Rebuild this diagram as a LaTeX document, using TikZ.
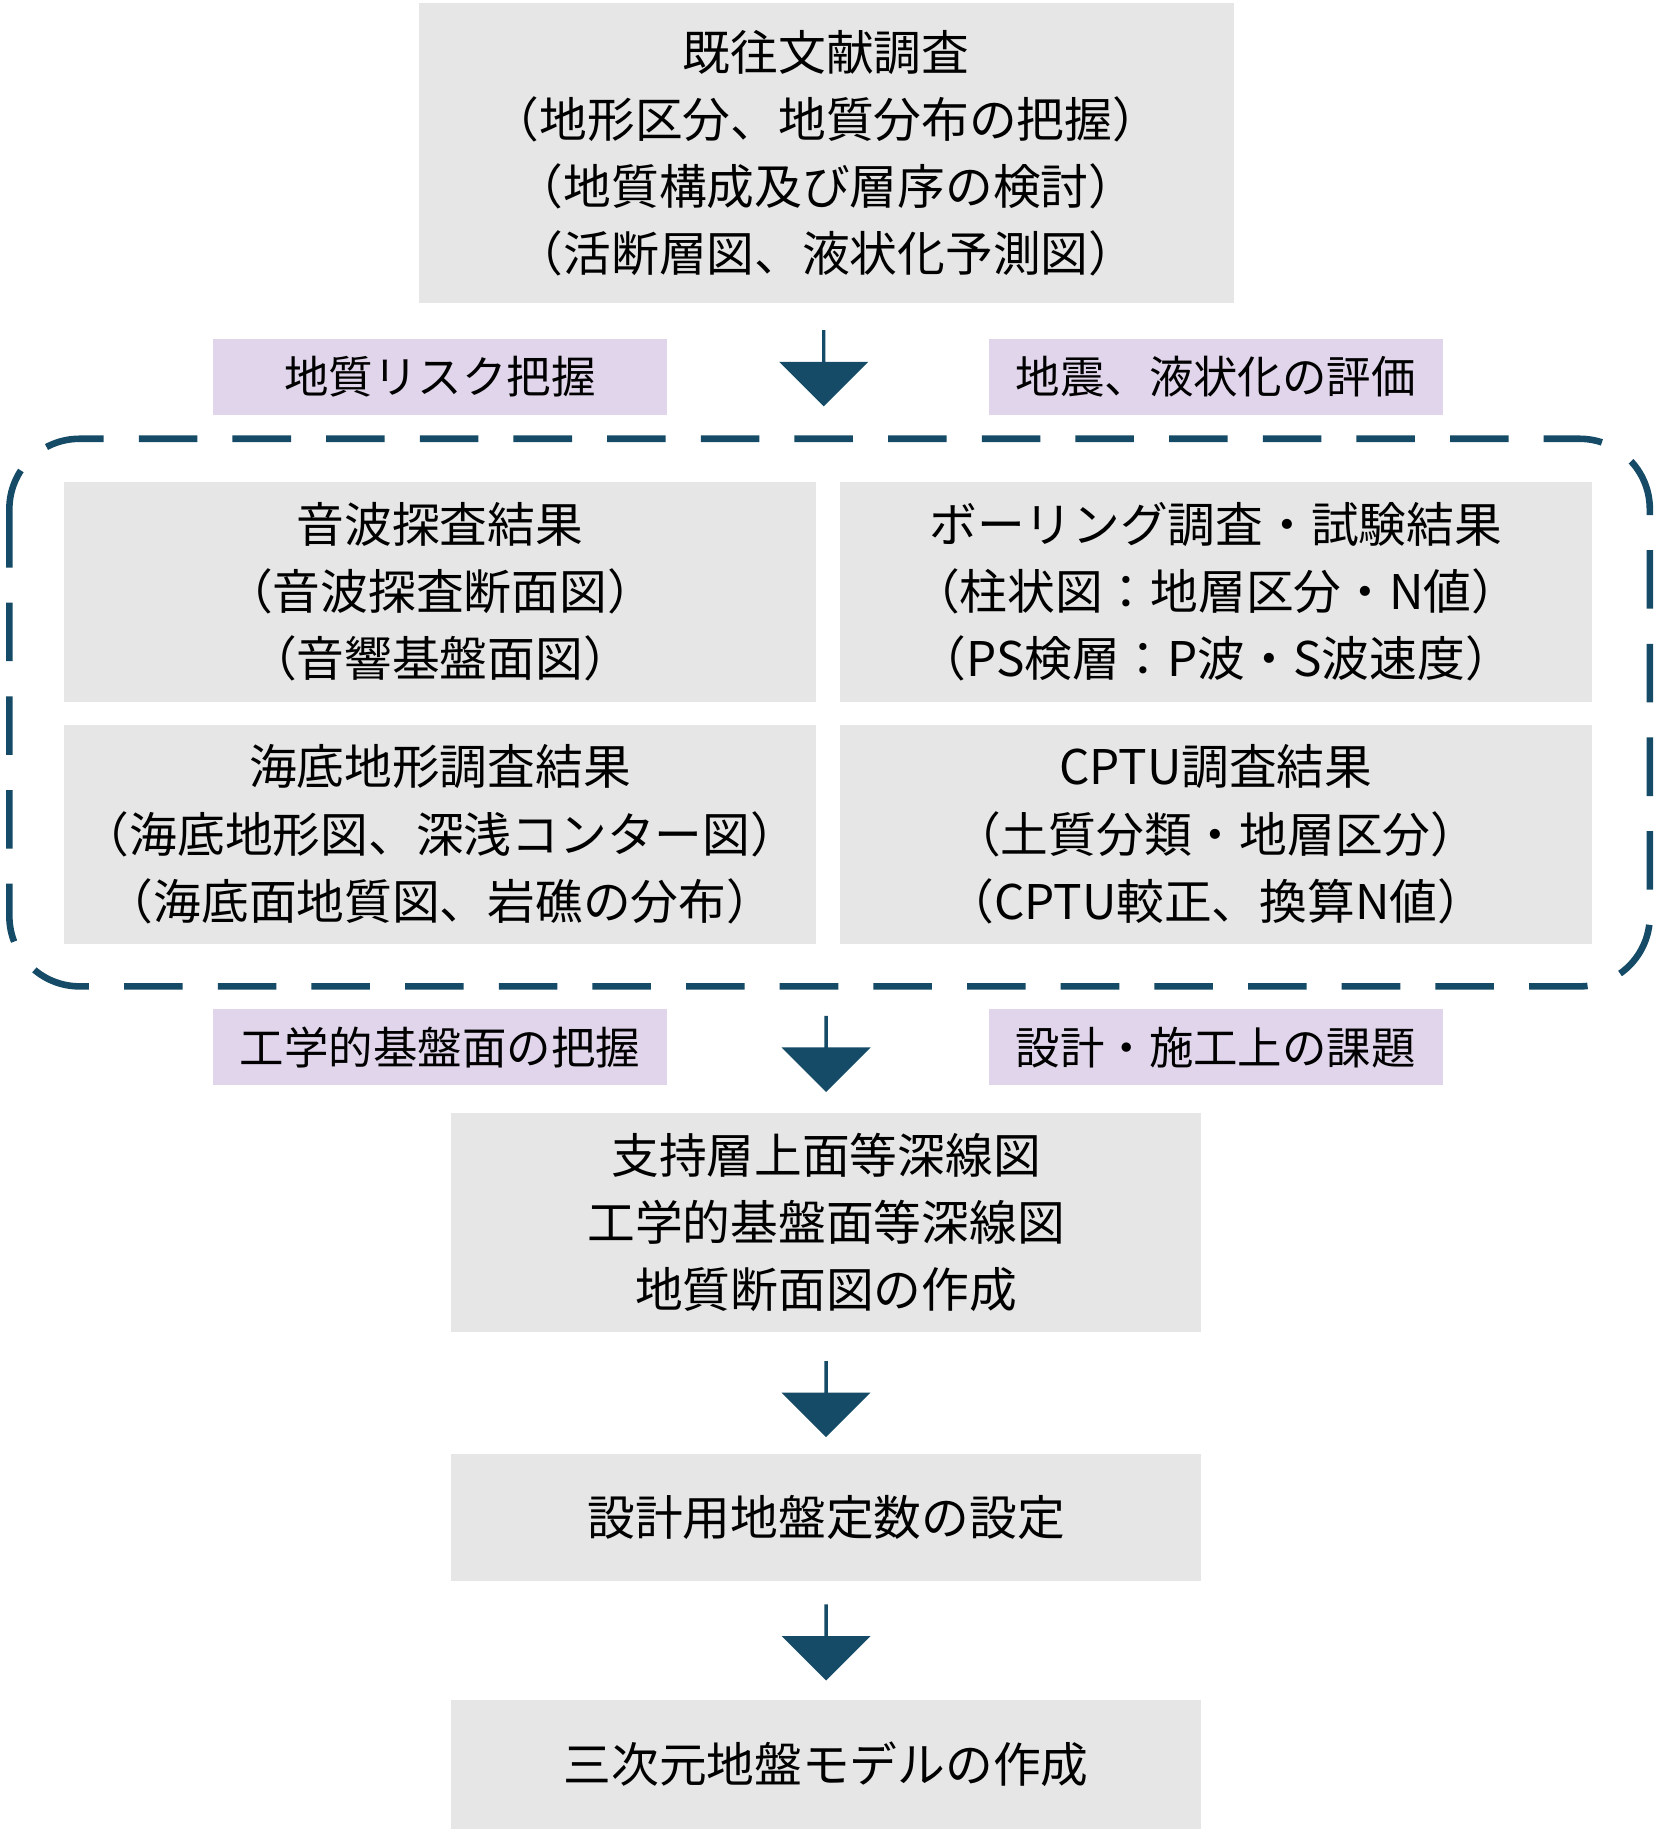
\documentclass[tikz,border=0pt]{standalone}
\usepackage{fontspec}
\setmainfont{Noto Sans CJK JP}
\usepackage{tikz}
\usetikzlibrary{shapes.arrows, positioning}
\definecolor{boxgray}{HTML}{E6E6E6}
\definecolor{lav}{HTML}{E1D5EB}
\definecolor{teal}{HTML}{154B66}

\begin{document}
\begin{tikzpicture}[x=0.01cm, y=-0.01cm, box/.style={fill=boxgray, draw=none, align=center, inner sep=0pt, font=\fontsize{11.6}{16.3}\selectfont}, tag/.style={fill=lav, draw=none, align=center, inner sep=0pt, minimum width=3.88cm, minimum height=0.65cm, font=\fontsize{10.8}{14}\selectfont}, blk/.style={single arrow, fill=teal, draw=none, shape border rotate=270, minimum width=0.76cm, single arrow head extend=0.18cm, minimum height=0.65cm, inner sep=0pt}]
    \useasboundingbox (0,0) rectangle (1414,1570);

    %Boxes
    \node[box, minimum width=6.96cm, minimum height=2.56cm](survey) at (706,131){既往文献調査\\（地形区分、地質分布の把握）\\（地質構成及び層序の検討）\\（活断層図、液状化予測図）};
    \node[box, minimum width=6.42cm, minimum height=1.88cm](sonic) at (376,506){音波探査結果\\（音波探査断面図）\\（音響基盤面図）};
    \node[box, minimum width=6.42cm, minimum height=1.88cm](boring) at (1039,506){ボーリング調査・試験結果\\（柱状図：地層区分・N値）\\（PS検層：P波・S波速度）};
    \node[box, minimum width=6.42cm, minimum height=1.87cm](seabed) at (376,713){海底地形調査結果\\（海底地形図、深浅コンター図）\\（海底面地質図、岩礁の分布）};
    \node[box, minimum width=6.42cm, minimum height=1.87cm](cptu) at (1039,713){CPTU調査結果\\（土質分類・地層区分）\\（CPTU較正、換算N値）};
    \node[box, minimum width=6.41cm, minimum height=1.87cm](contour) at (706,1045){支持層上面等深線図\\工学的基盤面等深線図\\地質断面図の作成};
    \node[box, minimum width=6.41cm, minimum height=1.08cm](param) at (706,1297){設計用地盤定数の設定};
    \node[box, minimum width=6.41cm, minimum height=1.10cm](model) at (706,1508){三次元地盤モデルの作成};

    %Tags
    \node[tag](risk) at (376,322){地質リスク把握};
    \node[tag](quake) at (1039,322){地震、液状化の評価};
    \node[tag](base) at (376,895){工学的基盤面の把握};
    \node[tag](issue) at (1039,895){設計・施工上の課題};

    %Arrows
    \node[blk](a1) at (704,314){};
    \node[blk](a2) at (706,900){};
    \node[blk](a3) at (706,1195){};
    \node[blk](a4) at (706,1403){};

    %Group
    \draw[teal, line width=1.6pt, dash pattern=on 0.5cm off 0.3cm, rounded corners=0.6cm] (8,375) rectangle (1410,843);
\end{tikzpicture}
\end{document}
